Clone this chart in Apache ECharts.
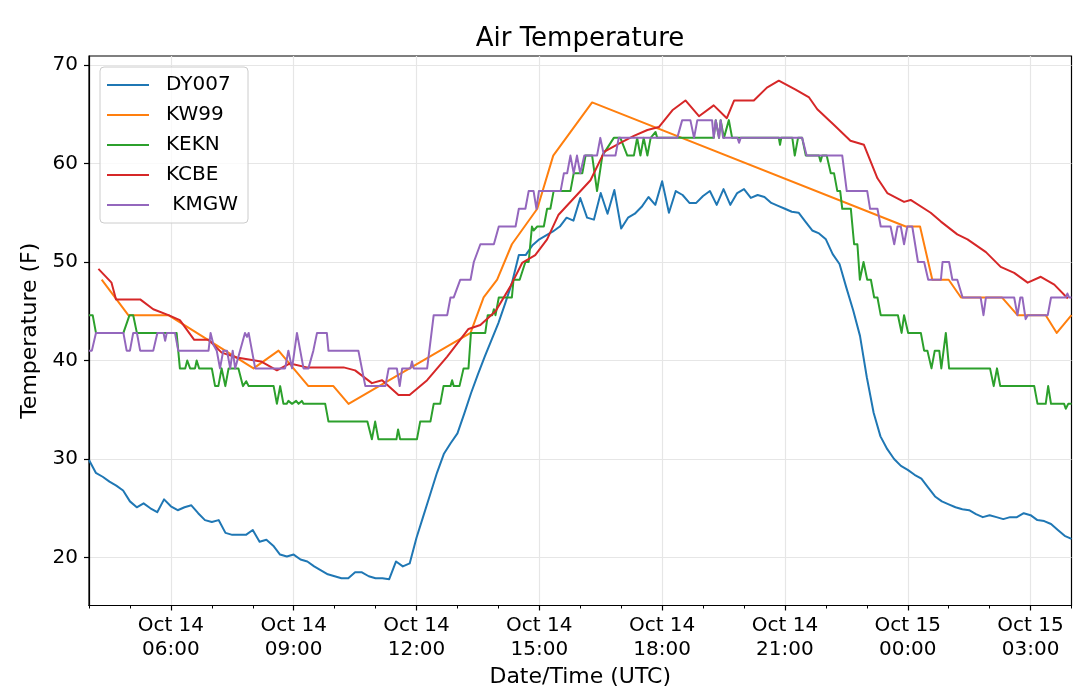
<!DOCTYPE html>
<html><head><meta charset="utf-8">
<script src="https://cdn.jsdelivr.net/npm/echarts@6/dist/echarts.min.js"></script>
<style>html,body{margin:0;padding:0;background:#fff}#chart{width:1080px;height:694px}</style>
</head><body><div id="chart"></div>
<script>
// Hours are counted from Oct 14 00:00 UTC on the axis; series offsets are from START_HOUR (04:00 UTC)
const START_HOUR = 4;
const X_MIN = 4, X_MAX = 28;
const xTickHours = [6, 9, 12, 15, 18, 21, 24, 27];
const yTickValues = [20, 30, 40, 50, 60, 70];
const seriesNames = ['DY007', 'KW99', 'KEKN', 'KCBE', ' KMGW'];
const seriesColors = ['#1f77b4', '#ff7f0e', '#2ca02c', '#d62728', '#9467bd'];

// DY007: one reading every 10 minutes from 04:00
const DY007_STEP_MIN = 10;
const dy007Temps = [
  29.9,28.6,28.2,27.7,27.3,26.8, 25.7,25.1,25.5,25.0,24.6,25.9,
  25.2,24.8,25.1,25.3,24.5,23.8, 23.6,23.8,22.5,22.3,22.3,22.3,
  22.8,21.6,21.8,21.2,20.3,20.1, 20.3,19.8,19.6,19.1,18.7,18.3,
  18.1,17.9,17.9,18.5,18.5,18.1, 17.9,17.9,17.8,19.6,19.1,19.4,
  22.0,24.2,26.4,28.6,30.5,31.6, 32.6,34.6,36.7,38.6,40.4,42.1,
  43.8,45.8,47.9,50.7,50.7,51.7, 52.3,52.7,53.1,53.6,54.5,54.2,
  56.5,54.5,54.3,57.0,54.9,57.3, 53.4,54.5,54.9,55.6,56.6,55.8,
  58.2,55.0,57.2,56.8,56.0,56.0, 56.7,57.2,55.8,57.4,55.8,57.0,
  57.4,56.5,56.8,56.6,56.0,55.7, 55.4,55.1,55.0,54.1,53.2,52.9,
  52.3,50.8,49.8,47.4,45.1,42.5, 38.3,34.7,32.3,31.0,30.0,29.3,
  28.9,28.4,28.0,27.1,26.2,25.7, 25.4,25.1,24.9,24.8,24.4,24.1,
  24.3,24.1,23.9,24.1,24.1,24.5, 24.3,23.8,23.7,23.4,22.8,22.2,
  21.9
];

// KW99
const kw99Hours = [0.31,0.96,1.94,4.02,4.63,5.36,5.97,6.34,9.32,9.64,9.97,10.33,10.95,11.34,12.29,19.95,20.30,20.60,21.00,21.30,22.30,22.68,23.37,23.64,24.00];
const kw99Temps = [48.2,44.6,44.6,39.2,41.0,37.4,37.4,35.6,42.8,46.4,48.2,51.8,55.4,60.8,66.2,53.6,53.6,48.2,48.2,46.4,46.4,44.6,44.6,42.8,44.6];

// KEKN
const keknHours = [0,0.09,0.17,0.84,0.99,1.08,1.17,2.14,2.22,2.35,2.40,2.47,2.59,2.63,2.69,2.84,2.88,2.92,3.00,3.08,3.16,3.24,3.33,3.41,3.65,3.76,3.84,3.90,4.51,4.59,4.67,4.75,4.83,4.87,4.96,5.06,5.12,5.20,5.24,5.77,5.85,6.80,6.91,6.99,7.07,7.51,7.55,7.60,8.01,8.09,8.34,8.42,8.58,
  8.66,8.83,8.87,8.91,9.05,9.15,9.27,9.33,9.68,9.74,9.85,9.89,9.93,10.01,10.33,10.37,10.52,10.66,10.74,10.82,10.86,10.95,11.11,11.19,11.27,11.35,11.76,11.84,12.05,12.13,12.29,12.41,12.54,12.82,12.98,13.15,13.31,13.39,13.47,13.55,13.64,13.72,13.84,13.88,15.26,
  15.31,15.39,15.43,15.51,15.63,15.71,16.85,16.88,16.91,17.18,17.24,17.32,17.42,17.51,17.83,17.87,17.91,18.02,18.12,18.20,18.28,18.35,18.40,18.61,18.69,18.77,18.83,18.92,19.01,19.10,19.18,19.26,19.34,19.76,19.85,19.91,20.01,20.32,20.40,20.48,20.58,20.66,20.77,20.82,20.93,21.01,21.87,21.91,21.95,22.01,22.10,22.18,22.26,22.80,22.84,22.88,23.09,23.17,23.37,23.43,23.50,23.82,23.86,23.92,24.00];
const keknTemps = [44.6,44.6,42.8,42.8,44.6,44.6,42.8,42.8,39.2,39.2,40.0,39.2,39.2,40.0,39.2,39.2,39.0,39.2,39.2,37.4,37.4,39.2,37.4,39.2,39.2,37.4,37.9,37.4,37.4,35.6,37.4,35.6,35.6,35.9,35.6,35.9,35.6,35.9,35.6,35.6,33.8,33.8,32.0,33.8,32.0,32.0,33.0,32.0,32.0,33.8,33.8,35.6,35.6,
  37.4,37.4,38.0,37.4,37.4,39.2,39.2,42.8,42.8,44.6,44.6,45.2,44.6,46.4,46.4,48.2,48.2,50.0,50.0,53.6,53.2,53.6,53.6,55.4,55.4,57.2,57.2,59.0,59.0,60.8,60.8,57.2,60.8,62.6,62.6,60.8,60.8,62.6,60.8,62.6,60.8,62.6,63.2,62.6,62.6,
  64.4,62.6,64.4,62.6,64.4,62.6,62.6,61.9,62.6,62.6,60.8,62.6,62.6,60.8,60.8,60.2,60.8,60.8,59.0,59.0,57.2,57.2,55.4,55.4,51.8,51.8,48.2,50.0,48.2,48.2,46.4,46.4,44.6,44.6,42.8,44.6,42.8,42.8,41.0,41.0,39.2,41.0,41.0,39.2,42.8,39.2,39.2,39.0,39.2,39.2,37.4,39.2,37.4,37.4,37.2,37.4,37.4,35.6,35.6,37.4,35.6,35.6,35.1,35.6,35.6];

// KCBE
const kcbeHours = [0.23,0.55,0.66,1.25,1.57,1.94,2.22,2.57,2.92,3.24,3.61,4.20,4.59,4.91,5.32,6.22,6.50,6.91,7.16,7.56,7.83,8.26,8.75,9.27,9.56,9.93,10.29,10.58,10.90,11.19,11.47,12.25,12.59,12.98,13.31,13.64,13.92,14.25,14.57,14.90,15.26,15.58,15.76,16.24,16.56,16.85,17.26,17.59,17.79,18.20,18.60,18.93,19.26,19.50,19.91,20.07,20.56,20.81,21.21,21.46,21.91,22.27,22.60,22.93,23.25,23.58,23.91];
const kcbeTemps = [49.3,47.9,46.2,46.2,45.2,44.6,44.1,42.1,42.1,40.8,40.3,39.9,39.0,39.7,39.3,39.3,39.0,37.7,38.0,36.5,36.5,38.0,40.4,43.2,43.6,45.0,47.5,49.9,50.7,52.3,54.8,58.3,61.2,62.1,62.8,63.4,63.7,65.4,66.4,64.8,65.9,64.6,66.4,66.4,67.7,68.4,67.5,66.7,65.5,63.9,62.3,61.9,58.5,57.0,56.1,56.3,55.0,54.1,52.8,52.3,51.0,49.5,48.9,47.9,48.5,47.7,46.3];

// KMGW
const kmgwHours = [0,0.07,0.17,0.84,0.92,1.00,1.08,1.17,1.25,1.57,1.67,1.82,1.86,1.90,2.10,2.18,2.92,2.97,3.04,3.12,3.20,3.28,3.37,3.45,3.51,3.57,3.69,3.81,3.86,3.90,4.06,4.79,4.87,4.96,5.08,5.16,5.24,5.36,5.48,5.57,5.81,5.85,6.58,6.75,6.91,6.95,7.16,7.24,7.32,7.52,7.59,7.65,7.85,7.89,7.93,8.26,
  8.42,8.75,8.83,8.91,9.07,9.32,9.40,9.56,9.89,10.01,10.42,10.50,10.66,10.74,10.86,10.93,10.99,11.52,11.60,11.68,11.76,11.84,11.92,12.00,12.10,12.41,12.49,12.58,12.86,12.94,14.37,14.49,14.69,14.78,14.86,15.22,15.26,15.31,15.39,15.43,15.49,15.84,15.88,15.92,
  17.42,17.53,18.40,18.51,18.85,18.89,18.93,19.01,19.08,19.26,19.34,19.58,19.67,19.75,19.83,19.91,19.99,20.11,20.25,20.40,20.50,20.81,20.85,21.01,21.09,21.21,21.34,21.78,21.85,21.91,22.60,22.68,22.75,22.80,22.88,22.93,23.42,23.50,23.86,23.90,23.94,24.00];
const kmgwTemps = [41.0,41.0,42.8,42.8,41.0,41.0,42.8,42.8,41.0,41.0,42.8,42.8,42.0,42.8,42.8,41.0,41.0,42.8,41.6,41.0,39.2,41.0,41.0,39.2,41.0,39.2,41.0,42.8,42.4,42.8,39.2,39.2,41.0,39.2,42.8,41.0,39.2,39.2,41.0,42.8,42.8,41.0,41.0,37.4,37.4,37.6,37.4,37.4,39.2,39.2,37.4,39.2,39.2,39.9,39.2,39.2,
  44.6,44.6,46.4,46.4,48.2,48.2,50.0,51.8,51.8,53.6,53.6,55.4,55.4,57.2,57.2,55.4,57.2,57.2,59.0,59.0,60.8,59.0,60.8,59.0,60.8,60.8,62.6,60.8,60.8,62.6,62.6,64.4,64.4,62.6,64.4,64.4,62.6,64.4,62.6,64.4,62.6,62.6,62.1,62.6,
  62.6,60.8,60.8,57.2,57.2,57.0,57.2,57.2,55.4,55.4,53.6,53.6,51.8,53.6,53.6,51.8,53.6,53.6,50.0,50.0,48.2,48.2,50.0,50.0,48.2,48.2,46.4,46.4,44.6,46.4,46.4,44.6,46.4,46.4,44.2,44.6,44.6,46.4,46.4,46.8,46.4,46.4];

const pair = (hours, temps) => hours.map((h, i) => [START_HOUR + h, temps[i]]);
const seriesData = [
  dy007Temps.map((v, i) => [START_HOUR + i * DY007_STEP_MIN / 60, v]),
  pair(kw99Hours, kw99Temps),
  pair(keknHours, keknTemps),
  pair(kcbeHours, kcbeTemps),
  pair(kmgwHours, kmgwTemps)
];

const FONT = 'DejaVu Sans';
const chart = echarts.init(document.getElementById('chart'), null, {renderer: 'canvas'});
const pad2 = n => (n < 10 ? '0' : '') + n;
chart.setOption({
  animation: false,
  backgroundColor: '#ffffff',
  color: seriesColors,
  title: {
    text: 'Air Temperature', left: 580, textAlign: 'center', top: 26, padding: 0,
    textStyle: {fontFamily: FONT, fontSize: 26, fontWeight: 'normal', color: '#000'}
  },
  legend: {
    orient: 'vertical', left: 100, top: 67,
    data: seriesNames, icon: 'rect', itemWidth: 42, itemHeight: 2, itemGap: 10,
    padding: [8, 10, 8, 7],
    backgroundColor: 'rgba(255,255,255,0.8)', borderColor: '#cccccc', borderWidth: 1, borderRadius: 4,
    textStyle: {fontFamily: FONT, fontSize: 20, color: '#000', lineHeight: 20, padding: [0, 0, 0, 12]}
  },
  grid: {left: 89, right: 8.5, top: 56, bottom: 88.5, show: true, borderColor: '#000', borderWidth: 1.2, backgroundColor: 'transparent'},
  xAxis: [{
    type: 'value', min: X_MIN, max: X_MAX,
    name: 'Date/Time (UTC)', nameLocation: 'middle', nameGap: 55,
    nameTextStyle: {fontFamily: FONT, fontSize: 22, color: '#000'},
    axisLine: {show: true, lineStyle: {color: '#000', width: 1.2}},
    axisTick: {show: true, customValues: xTickHours, length: 5, lineStyle: {color: '#000', width: 1.2}},
    axisLabel: {
      customValues: xTickHours, margin: 8, fontFamily: FONT, fontSize: 20, color: '#000', lineHeight: 24,
      formatter: v => (v < 24 ? 'Oct 14' : 'Oct 15') + '\n' + pad2(Math.round(v) % 24) + ':00'
    },
    splitLine: {show: true, lineStyle: {color: '#e6e6e6', width: 1.2}}
  }, {
    type: 'value', min: X_MIN, max: X_MAX, interval: 1, position: 'bottom', offset: 0,
    axisLine: {show: false},
    axisTick: {show: true, length: 3, lineStyle: {color: '#000', width: 1}},
    axisLabel: {show: false}, splitLine: {show: false}
  }],
  yAxis: {
    type: 'value', min: 15.13, max: 70.91,
    name: 'Temperature (F)', nameLocation: 'middle', nameGap: 44, nameRotate: 90,
    nameTextStyle: {fontFamily: FONT, fontSize: 22, color: '#000'},
    axisLine: {show: true, lineStyle: {color: '#000', width: 1.2}},
    axisTick: {show: true, customValues: yTickValues, length: 5, lineStyle: {color: '#000', width: 1.2}},
    axisLabel: {customValues: yTickValues, margin: 11, fontFamily: FONT, fontSize: 20, color: '#000'},
    splitLine: {show: true, lineStyle: {color: '#e6e6e6', width: 1.2}}
  },
  series: seriesNames.map((name, i) => ({
    name: name, type: 'line', data: seriesData[i], xAxisIndex: 0,
    showSymbol: false, symbol: 'none', smooth: false,
    lineStyle: {width: 2, color: seriesColors[i], join: 'round'},
    itemStyle: {color: seriesColors[i]}
  }))
});
</script></body></html>
